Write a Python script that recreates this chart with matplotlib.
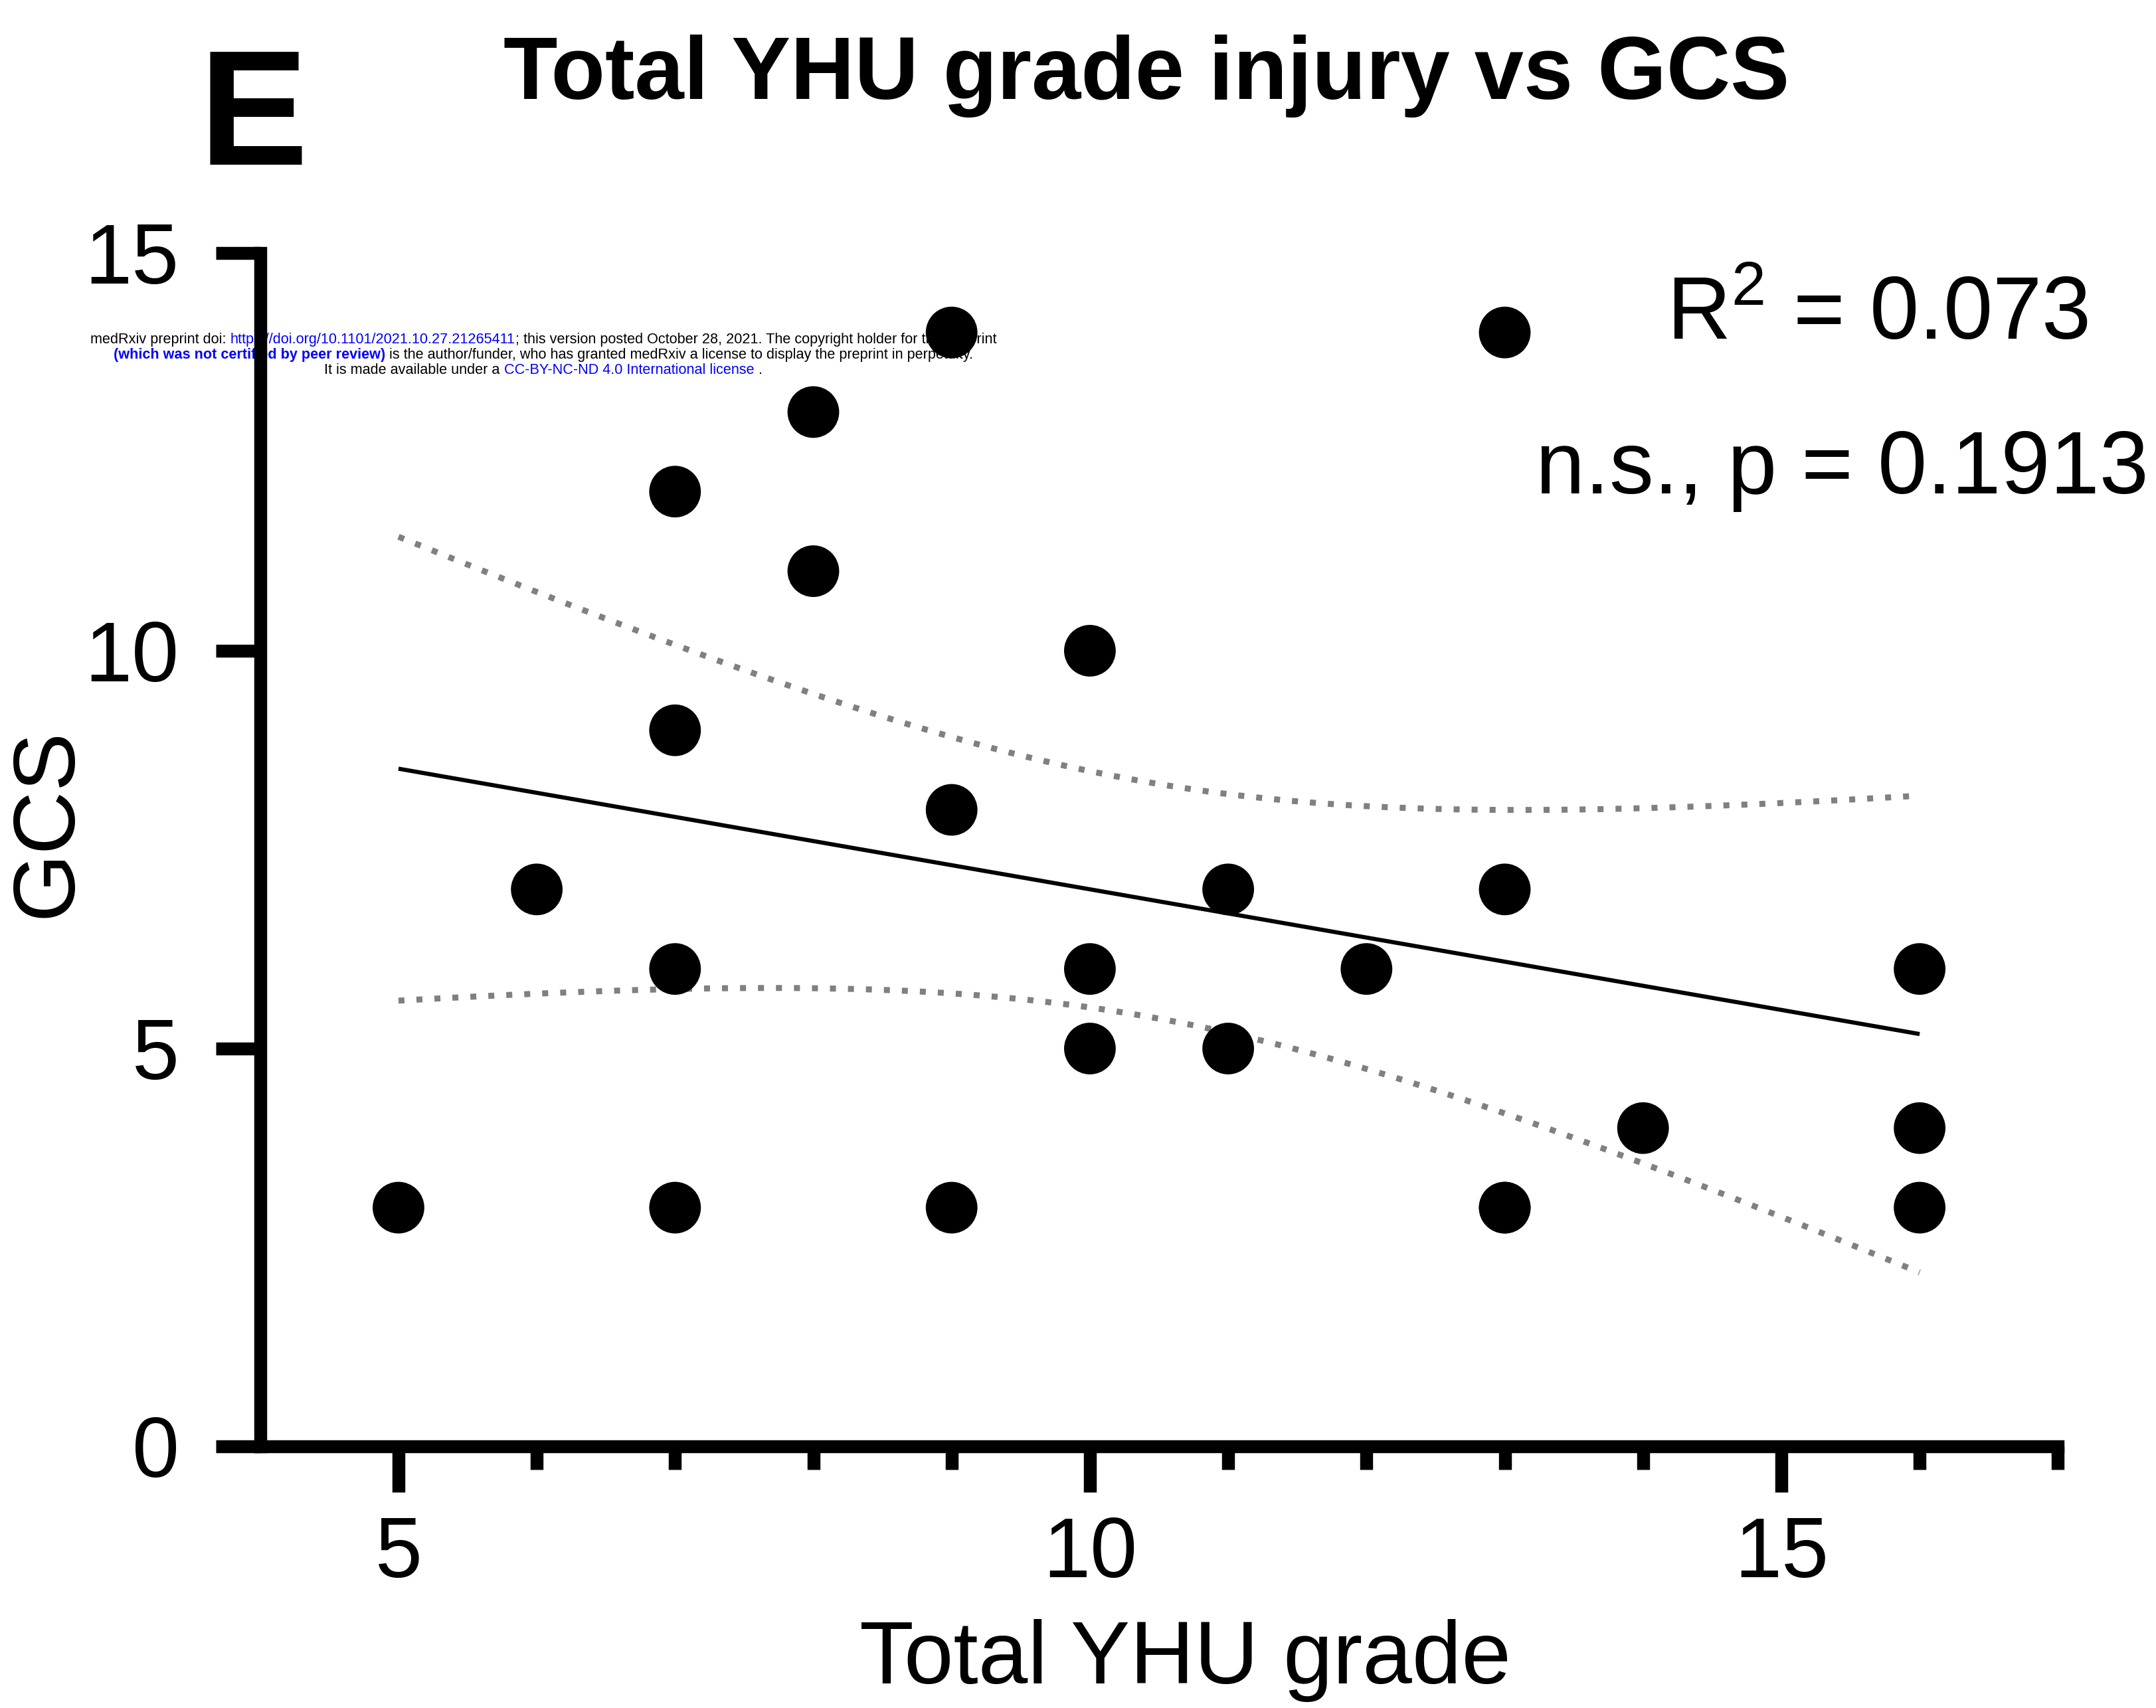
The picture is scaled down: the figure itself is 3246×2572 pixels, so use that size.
import numpy as np
import matplotlib
matplotlib.use("Agg")
import matplotlib.pyplot as plt

plt.rcParams['font.family'] = ['Liberation Sans', 'DejaVu Sans']
plt.rcParams['mathtext.fontset'] = 'custom'
plt.rcParams['mathtext.rm'] = 'Liberation Sans'

# patients: total YHU grade vs GCS (one pair overlaps at 13, 3)
yhu_grade = [5, 6, 7, 7, 7, 7, 8, 8, 9, 9, 9, 10, 10, 10, 11, 11, 12, 13, 13, 13, 13, 14, 16, 16, 16]
gcs = [3, 7, 12, 9, 6, 3, 13, 11, 14, 8, 3, 10, 6, 5, 7, 5, 6, 14, 7, 3, 3, 4, 6, 4, 3]

x_ticks = [5, 10, 15]
x_minor = [6, 7, 8, 9, 11, 12, 13, 14, 16, 17]
y_ticks = [0, 5, 10, 15]

title = "Total YHU grade injury vs GCS"
r2_text = "R$^2$ = 0.073"
p_text = "n.s., p = 0.1913"

# preprint banner, one list of (text, colour, weight) runs per line
banner = [
    [("medRxiv preprint doi: ", "black", "normal"),
     ("https://doi.org/10.1101/2021.10.27.21265411", "blue", "normal"),
     ("; this version posted October 28, 2021. The copyright holder for this preprint", "black", "normal")],
    [("(which was not certified by peer review)", "blue", "bold"),
     (" is the author/funder, who has granted medRxiv a license to display the preprint in perpetuity.", "black", "normal")],
    [("It is made available under a ", "black", "normal"),
     ("CC-BY-NC-ND 4.0 International license", "blue", "normal"),
     (" .", "black", "normal")],
]

W, H = 3246, 2572
fig = plt.figure(figsize=(W / 100, H / 100), dpi=100)
fig.patch.set_facecolor("white")


def draw_runs(runs, xc, y, size):
    # lay out coloured pieces of one line, centred on xc (pixels)
    r = fig.canvas.get_renderer()
    probe = fig.text(0, 0, "x x", fontsize=size)
    probe2 = fig.text(0, 0, "xx", fontsize=size)
    space = probe.get_window_extent(r).width - probe2.get_window_extent(r).width
    probe.remove()
    probe2.remove()
    items = []
    total = 0
    for s, c, w in runs:
        lead = len(s) - len(s.lstrip(" "))
        trail = len(s) - len(s.rstrip(" "))
        t = fig.text(0, y / H, s.strip(" "), color=c, fontweight=w, fontsize=size,
                     ha="left", va="baseline", zorder=-5)
        tw = t.get_window_extent(r).width
        items.append((t, lead * space, tw, trail * space))
        total += lead * space + tw + trail * space
    x = xc - total / 2
    for t, lead, tw, trail in items:
        x += lead
        t.set_x(x / W)
        x += tw + trail


for i, line in enumerate(banner):
    draw_runs(line, 818, H - (517 + 23 * i), 15.6)

ax = fig.add_axes([0.1008, 0.1532, 0.8537, 0.7453])
ax.set_facecolor("none")

x = np.array(yhu_grade, dtype=float)
y = np.array(gcs, dtype=float)
n = len(x)
slope, intercept = np.polyfit(x, y, 1)
xs = np.linspace(x.min(), x.max(), 300)
fit = intercept + slope * xs
resid = y - (intercept + slope * x)
s = np.sqrt(np.sum(resid ** 2) / (n - 2))
sxx = np.sum((x - x.mean()) ** 2)
t_crit = 2.0687  # t(0.975, df=23)
half = t_crit * s * np.sqrt(1 / n + (xs - x.mean()) ** 2 / sxx)

ax.plot(xs, fit, color="black", lw=4.5, zorder=3, solid_capstyle="butt")
for band in (fit + half, fit - half):
    ax.plot(xs, band, color="#808080", lw=6.5, ls=(0, (1, 2)), zorder=2)

ax.scatter(x, y, s=56 ** 2, color="black", edgecolors="none", zorder=4, clip_on=False)

ax.set_xlim(3.69, 17)
ax.set_ylim(0, 16)
for side in ("top", "right"):
    ax.spines[side].set_visible(False)
ax.spines["left"].set_position(("data", 4))
ax.spines["left"].set_bounds(0, 15)
ax.spines["bottom"].set_bounds(4, 17)
for side in ("left", "bottom"):
    ax.spines[side].set_linewidth(14)
    ax.spines[side].set_capstyle("projecting")

ax.set_xticks(x_ticks)
ax.set_xticks(x_minor, minor=True)
ax.set_yticks(y_ticks)
ax.tick_params(axis="x", which="major", length=50, width=14, pad=25, labelsize=92)
ax.tick_params(axis="x", which="minor", length=25, width=14)
ax.tick_params(axis="y", which="major", length=48, width=14, pad=40, labelsize=92)

ax.set_xlabel("Total YHU grade", fontsize=96.5, va="center")
ax.xaxis.set_label_coords(0.526, -0.1685)
ax.set_ylabel("GCS", fontsize=95, va="center")
ax.yaxis.set_label_coords(-0.092, 0.49)

fig.text(2509 / W, 1 - 511 / H, r2_text, fontsize=96, ha="left", va="baseline")
fig.text(2312 / W, 1 - 743 / H, p_text, fontsize=96, ha="left", va="baseline")

fig.text(1726 / W, 1 - 149 / H, title, fontsize=96, fontweight="bold", ha="center", va="baseline")
fig.text(300 / W, 1 - 248 / H, "E", fontsize=177, fontweight="bold", ha="left", va="baseline")

fig.savefig("out.png", dpi=100)
